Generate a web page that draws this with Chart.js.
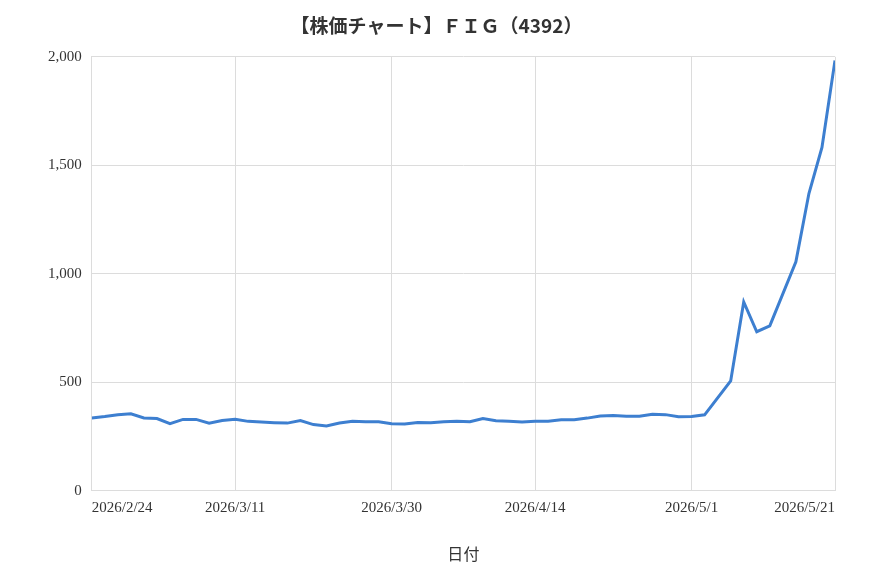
<!DOCTYPE html>
<html><head><meta charset="utf-8">
<script src="https://cdn.jsdelivr.net/npm/chart.js@4"></script>
<style>html,body{margin:0;padding:0;background:#fff}#w{width:870px;height:580px}</style>
</head><body><div id="w"><canvas id="c"></canvas></div>
<script>
const dates = ["2026/2/24","2026/2/25","2026/2/26","2026/2/27","2026/3/2","2026/3/3","2026/3/4","2026/3/5","2026/3/6","2026/3/9","2026/3/10","2026/3/11","2026/3/12","2026/3/13","2026/3/16","2026/3/17","2026/3/18","2026/3/19","2026/3/23","2026/3/24","2026/3/25","2026/3/26","2026/3/27","2026/3/30","2026/3/31","2026/4/1","2026/4/2","2026/4/3","2026/4/6","2026/4/7","2026/4/8","2026/4/9","2026/4/10","2026/4/13","2026/4/14","2026/4/15","2026/4/16","2026/4/17","2026/4/20","2026/4/21","2026/4/22","2026/4/23","2026/4/24","2026/4/27","2026/4/28","2026/4/30","2026/5/1","2026/5/7","2026/5/8","2026/5/11","2026/5/12","2026/5/13","2026/5/14","2026/5/15","2026/5/18","2026/5/19","2026/5/20","2026/5/21"];
const prices = [336,342,350,355,336,333,309,329,329,312,324,330,320,317,314,312,324,305,299,312,321,318,318,309,308,315,314,318,321,318,333,323,320,317,320,321,327,327,335,345,347,344,344,353,351,341,342,350,null,506,870,733,760,null,1055,1370,1582,1983];
const shownTicks = ["2026/2/24","2026/3/11","2026/3/30","2026/4/14","2026/5/1","2026/5/21"];
const tickIdx = shownTicks.map(d => dates.indexOf(d));
const serif = "'Liberation Serif','DejaVu Serif',serif";
new Chart(document.getElementById('c'), {
  type: 'line',
  data: { datasets: [{ data: prices.map((p,i)=>({x:i,y:p})), borderColor:'#3d7fd0', borderWidth:3, pointRadius:0, tension:0, spanGaps:true }] },
  options: {
    responsive:true, maintainAspectRatio:false, animation:false,
    layout:{padding:{left:38,right:35,top:10,bottom:12}},
    plugins:{ legend:{display:false}, tooltip:{enabled:false},
      title:{display:true,text:'【株価チャート】ＦＩＧ（4392）',color:'#333',font:{family:"'Noto Sans CJK JP'",size:19,weight:'bold'},padding:{top:4,bottom:20}} },
    scales:{
      x:{ type:'linear', min:0, max:dates.length-1,
        afterBuildTicks: a => { a.ticks = tickIdx.map(v=>({value:v})); },
        ticks:{ autoSkip:false, maxRotation:0, align:'inner', color:'#333', font:{family:serif,size:15}, padding:8, callback: v => dates[v] },
        grid:{color:'#dcdcdc', drawTicks:false}, border:{color:'#dcdcdc'},
        title:{display:true,text:'日付',color:'#333',font:{family:"'Noto Sans CJK JP'",size:16},padding:{top:20}} },
      y:{ min:0, max:2000,
        ticks:{ stepSize:500, color:'#333', font:{family:serif,size:15}, padding:10, callback: v => v.toLocaleString('en-US') },
        grid:{color:'#dcdcdc', drawTicks:false}, border:{color:'#dcdcdc'} }
    }
  }
});
</script></body></html>
